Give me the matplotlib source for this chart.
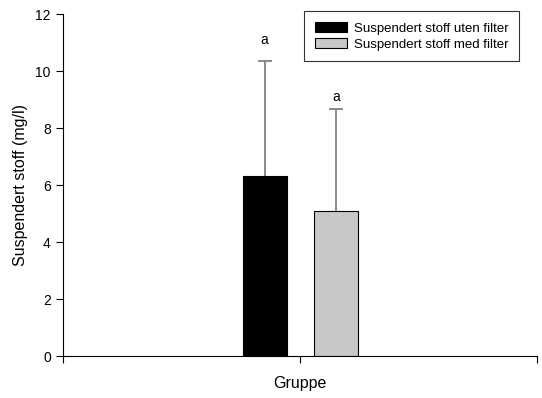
import matplotlib
matplotlib.use('Agg')
import matplotlib.pyplot as plt

plt.rcParams['font.family'] = ['Liberation Sans', 'DejaVu Sans']

# Data: mean suspended solids with upward standard deviation
series = ['Suspendert stoff uten filter', 'Suspendert stoff med filter']
means = [6.3, 5.1]
errors = [4.05, 3.55]
letters = ['a', 'a']
letter_y = [11.1, 9.1]
colors = ['#000000', '#c8c8c8']
offsets = [-0.15, 0.15]

fig = plt.figure(figsize=(5.42, 3.98), dpi=100)
ax = fig.add_axes([0.1168, 0.1055, 0.8745, 0.8593])

for name, m, e, c, off, lt, ly in zip(series, means, errors, colors, offsets, letters, letter_y):
    ax.bar(off, m, width=0.185, color=c, edgecolor='black', linewidth=0.8, label=name, zorder=2)
    _, caps, _ = ax.errorbar(off, m, yerr=[[0], [e]], fmt='none', ecolor='#808080',
                             elinewidth=1.3, capsize=5, capthick=1.3, zorder=1)
    # only keep the upper cap
    caps[0].remove()
    ax.text(off, ly, lt, ha='center', va='center', fontsize=10)

ax.set_xlim(-1, 1)
ax.set_ylim(0, 12)
ax.set_xticks([-1, 0, 1])
ax.set_xticklabels([])
ax.set_yticks(range(0, 13, 2))
ax.tick_params(axis='both', direction='out', length=5, width=0.8, labelsize=10, pad=4)

for side in ['top', 'right']:
    ax.spines[side].set_visible(False)
for side in ['left', 'bottom']:
    ax.spines[side].set_linewidth(0.8)

ax.set_ylabel('Suspendert stoff (mg/l)', fontsize=11.5, va='center')
ax.yaxis.set_label_coords(-0.09, 0.5)
ax.set_xlabel('Gruppe', fontsize=11.5, va='center')
ax.xaxis.set_label_coords(0.5, -0.08)

leg = ax.legend(loc='upper right', bbox_to_anchor=(0.962, 1.008), fontsize=9.5, frameon=True,
                fancybox=False, edgecolor='black', handlelength=2.5, handleheight=0.85,
                handletextpad=0.5, borderpad=0.8, labelspacing=0.25, borderaxespad=0)
leg.get_frame().set_linewidth(0.8)

fig.savefig('out.png', dpi=100)
